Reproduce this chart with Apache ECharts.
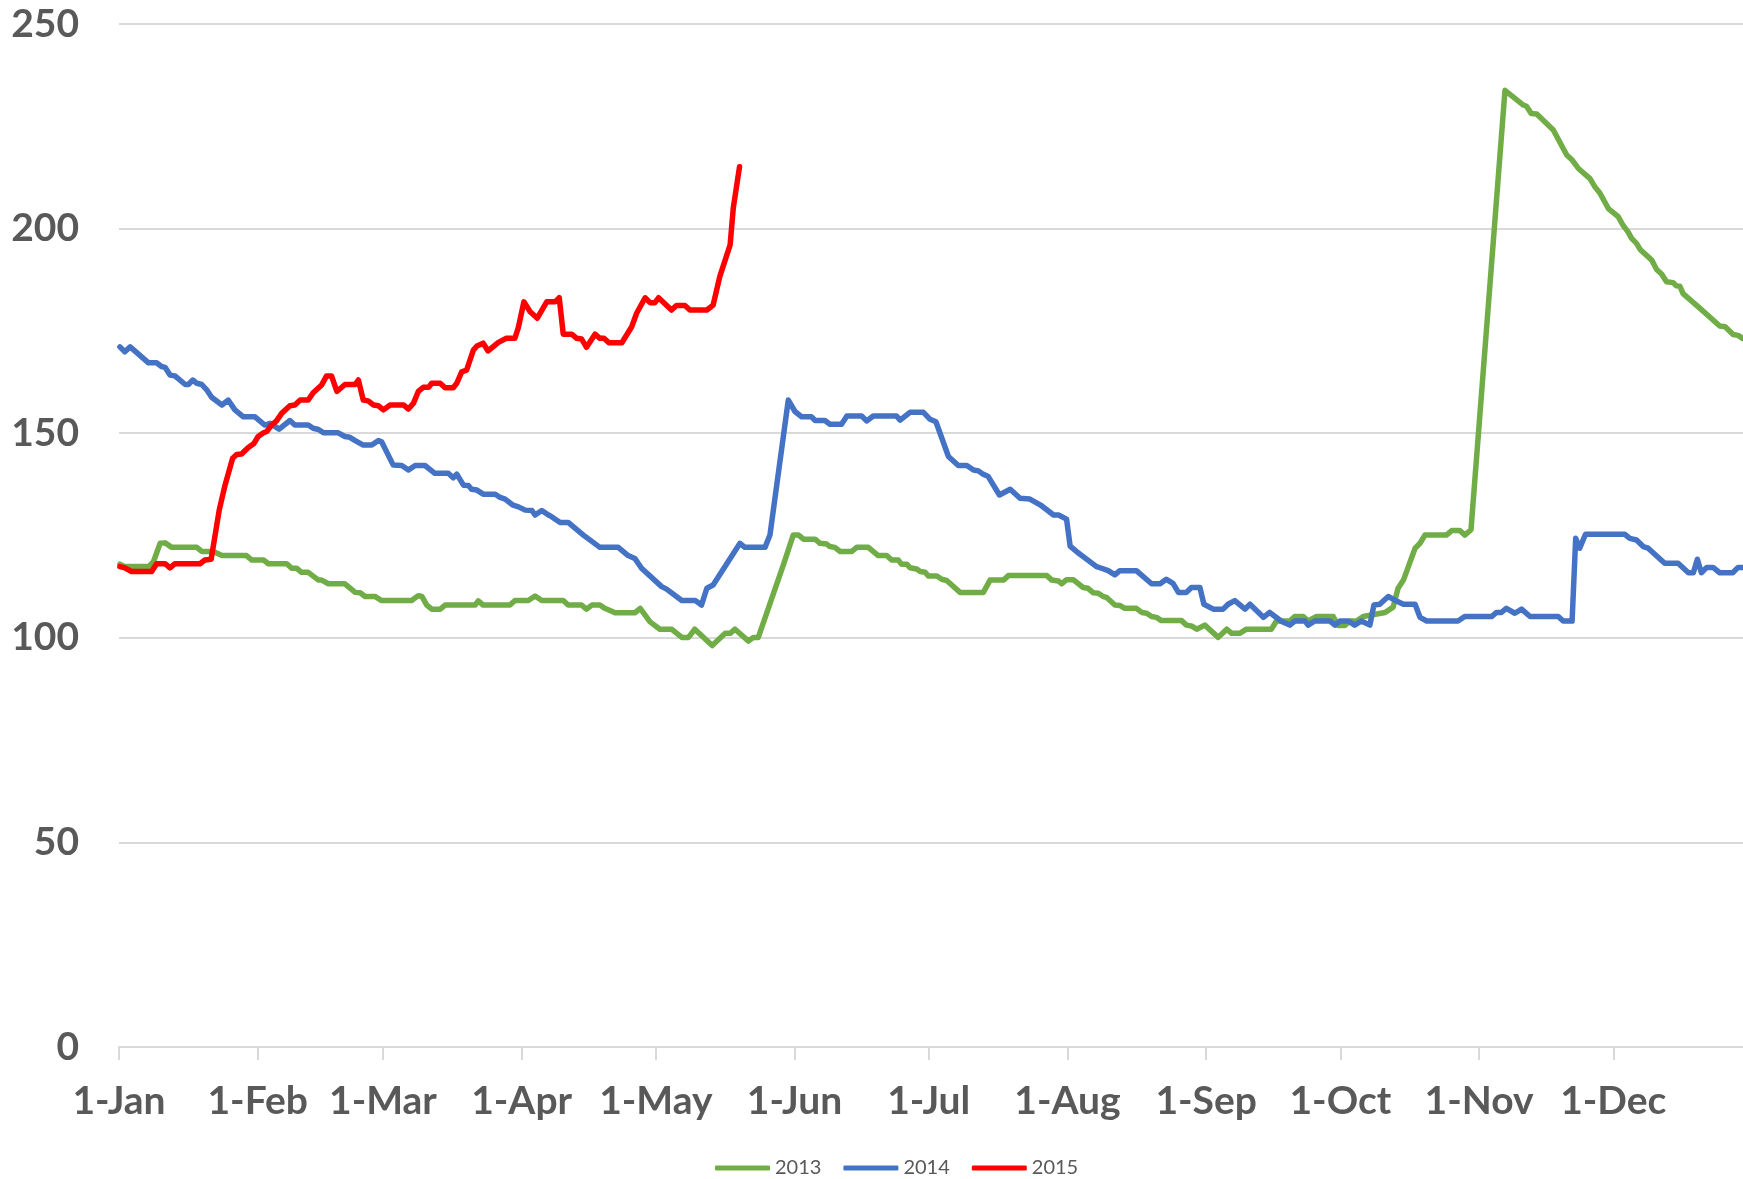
<!DOCTYPE html>
<html>
<head>
<meta charset="utf-8">
<script src="https://cdn.jsdelivr.net/npm/echarts@6/dist/echarts.min.js"></script>
<style>
  html, body { margin: 0; padding: 0; background: #fff; }
  #chart { width: 1743px; height: 1179px; }
</style>
</head>
<body>
<div id="chart"></div>
<script>
// x = day of year (0 = 1-Jan), y = value
var monthStarts = [0, 31, 59, 90, 120, 151, 181, 212, 243, 273, 304, 334];
var monthLabels = ['1-Jan', '1-Feb', '1-Mar', '1-Apr', '1-May', '1-Jun', '1-Jul', '1-Aug', '1-Sep', '1-Oct', '1-Nov', '1-Dec'];
var yTicks = [0, 50, 100, 150, 200, 250];
var seriesNames = ['2013', '2014', '2015'];

var points2013 = [
  [0.2,118],[1.3,117.4],[6.6,117.4],[7.7,118.6],[9.2,123.1],[10.3,123.2],[11.8,122.1],[17.4,122.1],[18.5,121.1],[21.1,121.1],
  [23,120.1],[28.5,120.1],[29.7,119],[32.3,119],[33.4,118.1],[37.5,118.1],[38.6,117],[39.7,117],[40.8,116],[42.3,116],
  [44.6,114.1],[45.3,114.1],[46.8,113.2],[50.5,113.2],[52.8,111.1],[53.9,111],[55,110.1],[57.2,110.1],[58.7,109.1],[65.4,109.1],
  [66.9,110.3],[67.7,110.1],[68.8,108],[69.9,107],[71.8,107],[72.9,108],[79.6,108],[80.3,109],[81.4,108],[87.4,108],
  [88.5,109.1],[91.5,109.1],[93,110.2],[94.5,109.1],[99.3,109.1],[100.4,108],[103.4,108],[104.5,107],[105.7,108],[107.5,108],
  [108.6,107.2],[110.9,106.1],[115.3,106.1],[116.5,107.2],[118.7,103.9],[120.9,102.1],[123.5,102.1],[125.8,100.1],[127.3,100.1],[128.7,102.1],
  [132.6,98.1],[135.5,101.1],[136.6,101.1],[137.7,102.1],[140.7,99.2],[141.8,100.1],[142.9,100.1],[148.5,117.8],[150.7,125.1],[151.9,125.1],
  [153,124.1],[155.6,124.1],[156.7,123.1],[158.2,122.9],[158.9,122.3],[160,122.1],[161.2,121.1],[163.8,121.1],[164.9,122.1],[167.5,122.1],
  [169.7,120.1],[171.6,120.1],[172.7,119],[174.2,119],[174.9,118],[176.1,118],[176.8,117.1],[178.3,116.8],[179.1,116.2],[180.2,116],
  [180.9,115.1],[182.8,115.1],[183.9,114.3],[185,114],[188,111.1],[193.2,111.1],[194.7,114.1],[197.7,114.1],[198.8,115.2],[207.4,115.2],
  [208.5,114.1],[210,113.9],[210.7,113.2],[211.8,114.2],[213.3,114.2],[215.5,112.3],[216.6,112.1],[217.8,111],[218.9,110.9],[220,110.1],
  [220.7,109.9],[222.6,108],[223.7,107.9],[224.8,107.2],[227.4,107.2],[228.6,106.2],[229.7,106],[230.8,105.2],[231.9,105],[233,104.2],
  [237.5,104.2],[238.6,103.1],[239.7,102.9],[240.9,102.1],[242.7,103.1],[245.7,100.1],[247.6,102.1],[248.7,101.1],[250.5,101.1],[252,102.1],
  [257.6,102.1],[258.7,104.1],[261.7,104.1],[262.8,105.2],[264.7,105.2],[265.8,104.1],[267.7,105.2],[271.4,105.2],[272.5,103],[274,103],
  [275.1,104.1],[276.6,104.1],[278.1,105.2],[283,106.2],[284.8,107.5],[285.9,112.1],[287.1,114.1],[288.2,117.4],[289.7,121.9],[290.8,123.1],
  [291.9,125.1],[296.7,125.1],[297.9,126.2],[299.7,126.2],[300.8,125.1],[302.2,126.4],[309.8,233.8],[313.9,230.2],[314.6,229.9],[315.7,228.1],
  [316.9,228],[320.6,224.1],[323.6,218],[324.7,216.9],[326.2,214.7],[328.8,212.2],[329.9,210.2],[331,208.7],[332.9,204.9],[335.1,202.9],
  [336.2,200.8],[337.3,199.2],[338.1,197.6],[339.2,196.4],[340,194.9],[342.6,192.3],[343.7,190],[344.8,188.9],[345.9,187],[347.4,186.8],
  [348.1,186],[348.9,185.9],[349.6,184.1],[353.4,180.5],[357.8,176.2],[359,176],[360.8,174.1],[361.9,173.9],[363,173.1]
];

var points2014 = [
  [0.2,171.1],[1.3,169.9],[2.5,171.1],[6.6,167.2],[8.4,167.2],[9.5,166.3],[10.3,166.1],[11.4,164.2],[12.5,164],[14.8,161.9],
  [15.5,161.9],[16.5,163],[17.4,162.2],[18.5,161.9],[19.6,160.6],[20.7,158.8],[23,156.9],[24.4,158.1],[25.9,155.7],[27.8,154],
  [30.4,154],[32.6,152],[33.8,152.4],[35.8,151],[38.2,153.1],[39.3,152],[42.3,152],[43.4,151.2],[44.6,150.9],[45.7,150.1],
  [49,150.1],[50.5,149.2],[51.6,149],[52.8,148.2],[54.6,147.1],[56.5,147.1],[58,148.2],[58.7,147.9],[61.3,142.2],[63.2,142.1],
  [64.7,141],[66.2,142.1],[68.4,142.1],[70.6,140.2],[73.6,140.2],[74.7,139.1],[75.5,140],[77,137.3],[78.1,137.2],[78.8,136.3],
  [80,136.1],[81.4,135.1],[84.1,135.1],[85.2,134.3],[86.3,133.9],[88.1,132.4],[89.3,132],[90.8,131.2],[92.3,131.1],[93,130],
  [94.5,131.1],[96,130],[96.7,129.6],[98.6,128.2],[100.4,128.2],[103.8,125.1],[107.5,122.1],[111.6,122.1],[113.8,120.1],[115.3,119.4],
  [116.8,117],[121.3,112.5],[122.4,111.9],[125.8,109.1],[128.8,109.1],[130.2,108],[131.4,112.1],[132.8,112.9],[138.8,123.1],[139.9,122.1],
  [144.4,122.1],[145.5,125.1],[149.6,158.1],[151.1,155.3],[152.6,154],[154.8,154],[155.6,153.1],[157.8,153.1],[158.9,152.2],[161.5,152.2],
  [162.7,154.2],[166,154.2],[167.1,153],[168.6,154.2],[173.8,154.2],[174.6,153.2],[176.8,155.1],[179.8,155.1],[181.3,153.4],[182.6,152.8],
  [185.4,144.3],[187.6,142.1],[189.5,142.1],[191,141],[192.1,140.8],[193.1,140],[194.3,139.4],[196.8,134.9],[199.2,136.3],[201.4,134.1],
  [203.6,133.9],[205.9,132.5],[208.9,130],[210,130],[211.8,129],[212.6,122.4],[214,121.1],[218.5,117.4],[219.6,117],[221.1,116.4],
  [222.6,115.4],[223.7,116.4],[227.4,116.4],[230.8,113.2],[232.7,113.2],[234.1,114.3],[235.6,113.3],[236.8,111.1],[238.6,111.1],[239.7,112.3],
  [241.6,112.3],[242.5,108.2],[244.6,107],[246.8,107],[247.9,108.2],[249.4,109.1],[251.7,107],[252.8,108.2],[255.8,105],[257.2,106.2],
  [259.9,104],[261.7,103.1],[262.8,104.1],[265.1,104.1],[265.8,103.1],[267.3,104.1],[270.7,104.1],[271.8,103.1],[272.9,104.1],[274.8,104.1],
  [276.2,103.1],[277.7,104.1],[279.6,103.1],[280.5,108],[281.8,108.2],[283.7,110.1],[285.2,109.2],[287.1,108.2],[289.7,108.2],[290.8,105],
  [292.3,104.1],[299.3,104.1],[300.8,105.2],[306.8,105.2],[307.9,106.2],[309,106.2],[310.1,107.2],[312,106],[313.5,107],[315.4,105.2],
  [321.7,105.2],[322.8,104.1],[324.8,104.1],[325.6,124.3],[326.5,121.9],[327.8,125.3],[336.6,125.3],[337.7,124.3],[339.2,123.9],[340.7,122.3],
  [341.8,121.9],[345.5,118.2],[348.5,118.2],[350.8,115.9],[351.9,115.9],[352.8,119.2],[353.7,115.9],[354.9,117.2],[356.3,117.2],[357.8,115.9],
  [360.7,115.9],[361.9,117.2],[363,117.2]
];

var points2015 = [
  [0.2,117.4],[1.3,117.1],[2.8,116.2],[7.3,116.2],[8.4,118.1],[10.3,118.1],[11.4,117.1],[12.5,118.1],[18.1,118.1],[19.2,119],
  [20.6,119.2],[22.4,131.2],[23.7,137.3],[25.4,143.9],[26.3,144.8],[27.4,144.9],[28.9,146.5],[30.1,147.4],[31.1,149.2],[32.3,150.1],
  [33,150.4],[34.1,152],[35.2,153],[36.4,154.9],[38.2,156.7],[39.3,156.9],[40.5,158.1],[42.3,158.1],[43.4,159.9],[45.3,161.8],
  [46.4,164],[47.5,164],[48.7,160.2],[50.5,161.9],[52.8,161.9],[53.5,163],[54.6,158.1],[55.7,157.9],[56.9,156.9],[58,156.7],
  [59.1,155.7],[60.6,156.9],[63.6,156.9],[64.7,155.9],[65.8,157.3],[66.9,160.2],[68,161.2],[69.2,161.2],[69.9,162.2],[71.8,162.2],
  [72.9,161.1],[74.7,161.1],[75.5,162.2],[76.6,165],[77.7,165.4],[79.2,170.3],[80,171.3],[81.4,172],[82.5,170.1],[84.8,172.2],
  [86.6,173.2],[88.5,173.2],[89.3,176],[90.5,182.1],[91.9,179.7],[93.5,178.1],[95.6,182.1],[97.5,182.1],[98.4,183.1],[99.3,174.2],
  [101.2,174.2],[102.3,173.2],[103.4,173],[104.5,171],[106.4,174.2],[107.5,173.2],[108.4,173.2],[109.5,172.1],[112.4,172.1],[114.6,176],
  [115.7,179.3],[117.6,183.1],[118.7,181.9],[119.8,181.9],[120.6,183.1],[123.5,180.1],[124.6,181.2],[126.5,181.2],[127.6,180.1],[131.4,180.1],
  [132.8,181.3],[134.3,188.3],[136.6,196],[137.3,205],[138.7,215.1]
];

var colors = ['#70AD47', '#4472C4', '#FF0000'];
var labelFont = 'Lato, "Open Sans", sans-serif';

function makeLine(name, data, color) {
  return {
    name: name,
    type: 'line',
    data: data,
    showSymbol: false,
    symbol: 'none',
    color: color,
    lineStyle: { color: color, width: 5.5, cap: 'round', join: 'round' }
  };
}

var chart = echarts.init(document.getElementById('chart'));
chart.setOption({
  animation: false,
  backgroundColor: '#ffffff',
  grid: { left: 119, right: 0, top: 24, bottom: 132 },
  legend: {
    data: seriesNames,
    left: 710,
    top: 1153,
    icon: 'roundRect',
    itemWidth: 55,
    itemHeight: 5,
    itemGap: 22,
    textStyle: { fontFamily: labelFont, fontSize: 20, color: '#595959' }
  },
  xAxis: {
    type: 'value',
    min: 0,
    max: 363,
    splitLine: { show: false },
    axisLine: { show: true, onZero: false, lineStyle: { color: '#d9d9d9', width: 2 } },
    axisTick: { show: true, customValues: monthStarts, length: 13, lineStyle: { color: '#d9d9d9', width: 2 } },
    axisLabel: {
      customValues: monthStarts,
      formatter: function (v) { return monthLabels[monthStarts.indexOf(v)]; },
      fontFamily: labelFont,
      fontWeight: 'bold',
      fontSize: 39,
      color: '#595959',
      margin: 35
    }
  },
  yAxis: {
    type: 'value',
    min: yTicks[0],
    max: yTicks[yTicks.length - 1],
    interval: 50,
    axisLine: { show: false },
    axisTick: { show: false },
    splitLine: { lineStyle: { color: '#d9d9d9', width: 2 } },
    axisLabel: {
      fontFamily: labelFont,
      fontWeight: 'bold',
      fontSize: 39,
      color: '#595959',
      margin: 40
    }
  },
  series: [
    makeLine(seriesNames[0], points2013, colors[0]),
    makeLine(seriesNames[1], points2014, colors[1]),
    makeLine(seriesNames[2], points2015, colors[2])
  ]
});
</script>
</body>
</html>
